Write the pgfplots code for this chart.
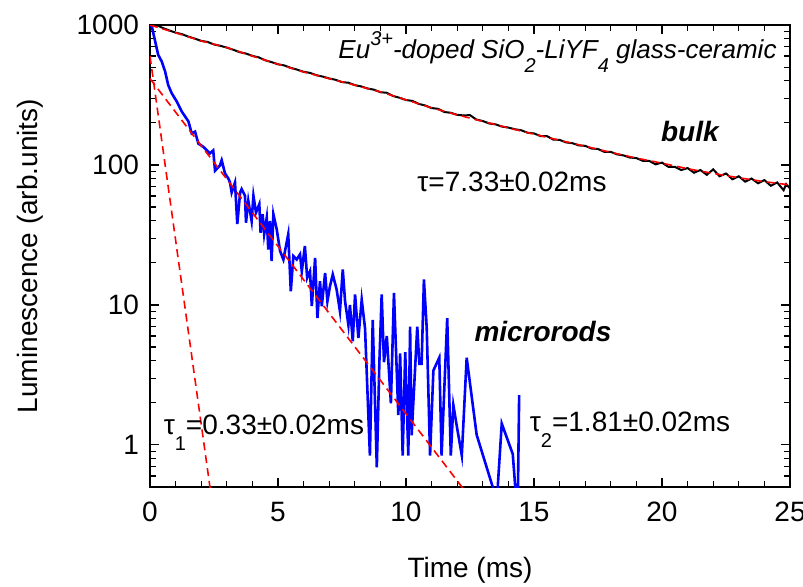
\documentclass[border=0pt]{standalone}
\usepackage{fontspec}
\setmainfont{Liberation Sans}
\usepackage{pgfplots}
\pgfplotsset{compat=1.18}

\newcommand{\lbl}{\fontsize{14}{16}\selectfont}
\newcommand{\sub}[1]{\raisebox{-0.55em}{\fontsize{10}{12}\selectfont #1}}
\newcommand{\super}[1]{\raisebox{0.5em}{\fontsize{10}{12}\selectfont #1}}

\begin{document}
\begin{tikzpicture}
\begin{axis}[
    scale only axis,
    width=320pt, height=231pt,
    ymode=log,
    xmin=0, xmax=25, ymin=0.5, ymax=1000,
    xtick={0,5,...,25}, minor x tick num=4,
    ytick={1,10,100,1000}, yticklabels={1,10,100,1000},
    minor ytick={0.5,0.6,0.7,0.8,0.9,2,3,4,5,6,7,8,9,20,30,40,50,60,70,80,90,200,300,400,500,600,700,800,900},
    tick align=inside,
    major tick length=4.5pt, minor tick length=3pt,
    axis line style={line width=1pt},
    tick style={line width=0.6pt, black},
    /pgf/number format/assume math mode=true,
    tick label style={font=\lbl},
    xticklabel style={yshift=-4pt},
    yticklabel style={xshift=-2pt},
    xlabel={Time (ms)},
    ylabel={Luminescence (arb.units)},
    label style={font=\lbl},
    xlabel style={at={(axis description cs:0.5,-0.18)}, anchor=center},
    ylabel style={at={(axis description cs:-0.1875,0.5)}, anchor=center},
  ]

  % bulk decay
  \addplot[black, line width=1pt] coordinates {
    (0,1000) (0.25,1000) (0.5,952) (0.75,915) (1,882) (1.25,860) (1.5,826) (1.75,800)
    (2,770) (2.25,757) (2.5,726) (2.75,710) (3,690) (3.25,666) (3.5,640) (3.75,625)
    (4,602) (4.25,587) (4.5,560) (4.75,543) (5,524) (5.25,514) (5.5,494) (5.75,480)
    (6,463) (6.25,455) (6.5,438) (6.75,428) (7,415) (7.25,406) (7.5,391) (7.75,387)
    (8,372) (8.25,364) (8.5,352) (8.75,345) (9,331) (9.25,328) (9.5,311) (9.75,302)
    (10,291) (10.25,287) (10.5,273) (10.75,266) (11,255) (11.25,252) (11.5,239) (11.75,236)
    (12,228) (12.25,226) (12.5,227) (12.75,211) (13,206) (13.25,198) (13.5,195) (13.75,188)
    (14,185) (14.25,180) (14.5,177) (14.75,170) (15,168) (15.25,161) (15.5,161) (15.75,152)
    (16,151) (16.25,145) (16.5,143) (16.75,138) (17,137) (17.25,131) (17.5,130) (17.75,124)
    (18,124) (18.25,119) (18.5,117) (18.75,113) (19,112) (19.25,107) (19.5,107) (19.75,101)
    (20,104) (20.25,97) (20.5,97) (20.75,92) (21,95) (21.25,88) (21.5,92) (21.75,85)
    (22,93) (22.25,83) (22.5,87) (22.75,79) (23,83) (23.25,76) (23.5,80) (23.75,74)
    (24,78) (24.25,71) (24.5,75) (24.75,66) (24.85,73) (25,68)
  };

  % microrods decay
  \addplot[blue, line width=1.3pt] coordinates {
    (0,1000) (0.07,979) (0.32,612) (0.46,548) (0.59,466) (0.71,373) (0.85,325) (1.04,285)
    (1.24,241) (1.50,205) (1.63,168) (1.76,173) (1.89,142) (2.08,135) (2.34,121) (2.47,127)
    (2.54,91) (2.73,99) (2.80,108) (2.93,87) (3.06,80) (3.125,75) (3.19,63.5) (3.32,75)
    (3.41,37.8) (3.52,63.5) (3.58,67.3) (3.71,60.3) (3.75,38.7) (3.84,55.5) (3.97,39.8) (4.04,60.3)
    (4.14,45.7) (4.27,52.5) (4.32,32.8) (4.40,44.5) (4.46,32) (4.56,42) (4.62,24.9) (4.69,39.8)
    (4.75,20.6) (4.82,44.5) (4.95,34.7) (5.08,24.3) (5.21,21.1) (5.40,32) (5.50,12.5) (5.60,22.3)
    (5.73,21.1) (5.86,23) (5.93,17.4) (6.05,26.4) (6.14,15.6) (6.25,17.4) (6.32,9.8) (6.45,21.7)
    (6.54,8.05) (6.64,14.8) (6.71,9.8) (6.84,16.9) (6.93,10.6) (7.03,13.6) (7.14,16.5) (7.29,12.9)
    (7.42,9.0) (7.53,17.9) (7.62,10.6) (7.75,7.2) (7.81,10.0) (7.92,5.5) (8.01,11.9) (8.14,5.8)
    (8.27,10.9) (8.40,6.8) (8.59,0.84) (8.70,7.8) (8.86,0.69) (8.96,3.9) (9.05,11.9) (9.14,3.9)
    (9.25,6.0) (9.41,1.98) (9.53,12.2) (9.70,1.63) (9.77,4.5) (9.87,0.84) (9.97,4.6) (10.09,0.84)
    (10.16,7.0) (10.22,1.17) (10.44,7.0) (10.52,3.8) (10.61,3.8) (10.70,15.2) (10.81,6.8) (10.94,0.84)
    (11.07,3.4) (11.30,4.2) (11.39,0.84) (11.61,8.05) (11.75,0.84) (11.85,1.92) (12.00,1.31) (12.18,0.84)
    (12.37,4.2) (12.76,1.18) (13.55,0.4) (13.74,1.42) (14.17,0.86) (14.36,0.3) (14.42,2.27)
  };

  % fits
  \addplot[red, line width=0.8pt, dash pattern=on 4pt off 2.5pt] coordinates {
    (0,1000) (1,880) (2,770) (3,690) (4,600) (5,525) (6,462) (7,414) (8,372) (9,333)
    (10,292) (11,256) (12,228) (13,205) (14,184) (15,166) (16,150) (17,136) (18,123)
    (19,112) (20,103) (21,94) (22,87) (23,81) (24,76) (25,72)
  };
  \addplot[red, line width=0.8pt, dash pattern=on 4pt off 2.5pt] coordinates {(0,600) (2.4,0.42)};
  \addplot[red, line width=0.8pt, dash pattern=on 4pt off 2.5pt] coordinates {(0,414) (12.5,0.42)};

  \node[anchor=base east, font=\fontsize{13}{15}\selectfont\itshape] at (axis cs:24.75,579)
    {Eu\super{3+}-doped SiO\sub{2}-LiYF\sub{4} glass-ceramic};
  \node[font=\lbl\bfseries\itshape] at (axis cs:21.09,173) {bulk};
  \node[anchor=base, font=\lbl] at (axis cs:14.14,64.3) {τ=7.33±0.02ms};
  \node[anchor=base, font=\lbl\bfseries\itshape] at (axis cs:15.35,5.48) {microrods};
  \node[anchor=base, font=\lbl] at (axis cs:18.75,1.24) {τ\sub{2}=1.81±0.02ms};
  \node[anchor=base, font=\lbl] at (axis cs:4.45,1.18) {τ\sub{1}=0.33±0.02ms};

\end{axis}
\pgfresetboundingbox
\path[use as bounding box] (-75pt,-49.5pt) rectangle (326.5pt,243.5pt);
\end{tikzpicture}
\end{document}
